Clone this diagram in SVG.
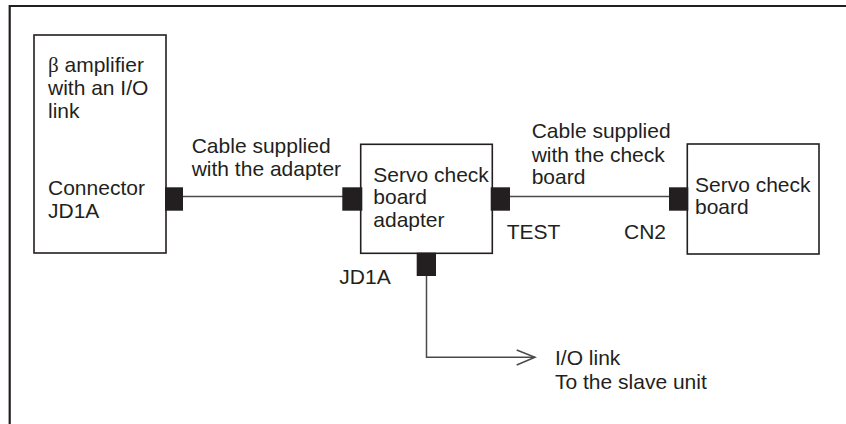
<svg xmlns="http://www.w3.org/2000/svg" width="846" height="424" viewBox="0 0 846 424">
<style>
text{font-family:"Liberation Sans",Arial,sans-serif;font-size:21px;fill:#231f20}
.sym{font-family:"Liberation Serif","Times New Roman",serif}
.box{fill:#fff;stroke:#231f20;stroke-width:1.6}
.pin{fill:#231f20}
.wire{fill:none;stroke:#4a4a4a;stroke-width:1.5}
</style>
<path d="M9.7,424 V6 H846" fill="none" stroke="#231f20" stroke-width="2.2"/>
<g id="connectors">
<line class="wire" x1="183" y1="196.5" x2="343" y2="196.5"/>
<line class="wire" x1="510" y1="196.5" x2="669" y2="196.5"/>
<path class="wire" d="M426.5,276 V357.3 H535"/>
<path class="wire" d="M516.7,350 L535,357.3 L516.7,365"/>
<text x="191.7" y="153.3">Cable supplied</text>
<text x="191.7" y="176">with the adapter</text>
<text x="531.7" y="138.3">Cable supplied</text>
<text x="531.7" y="161.5">with the check</text>
<text x="531.7" y="184.3">board</text>
<text x="555" y="365">I/O link</text>
<text x="555" y="389">To the slave unit</text>
</g>
<g id="amplifier">
<rect class="box" x="34" y="35" width="132" height="218"/>
<text x="48" y="72"><tspan class="sym">β</tspan> amplifier</text>
<text x="48" y="95">with an I/O</text>
<text x="48" y="118">link</text>
<text x="48" y="195">Connector</text>
<text x="48" y="218">JD1A</text>
<rect class="pin" x="165" y="187.3" width="18" height="23.4"/>
</g>
<g id="adapter">
<rect class="box" x="360.7" y="144.3" width="131.6" height="109"/>
<text x="373.3" y="181.7">Servo check</text>
<text x="373.3" y="204.3">board</text>
<text x="373.3" y="227">adapter</text>
<rect class="pin" x="342.3" y="187.3" width="20" height="23.4"/>
<rect class="pin" x="490.7" y="187.3" width="19.3" height="23.4"/>
<rect class="pin" x="416.7" y="252.7" width="19.3" height="23.3"/>
<text x="339.3" y="284">JD1A</text>
<text x="506.7" y="239.3">TEST</text>
</g>
<g id="checkboard">
<rect class="box" x="687.3" y="144" width="131.7" height="110"/>
<text x="695" y="191.7">Servo check</text>
<text x="695" y="214">board</text>
<rect class="pin" x="669" y="187.3" width="19.3" height="23.4"/>
<text x="624" y="239.3">CN2</text>
</g>
</svg>
